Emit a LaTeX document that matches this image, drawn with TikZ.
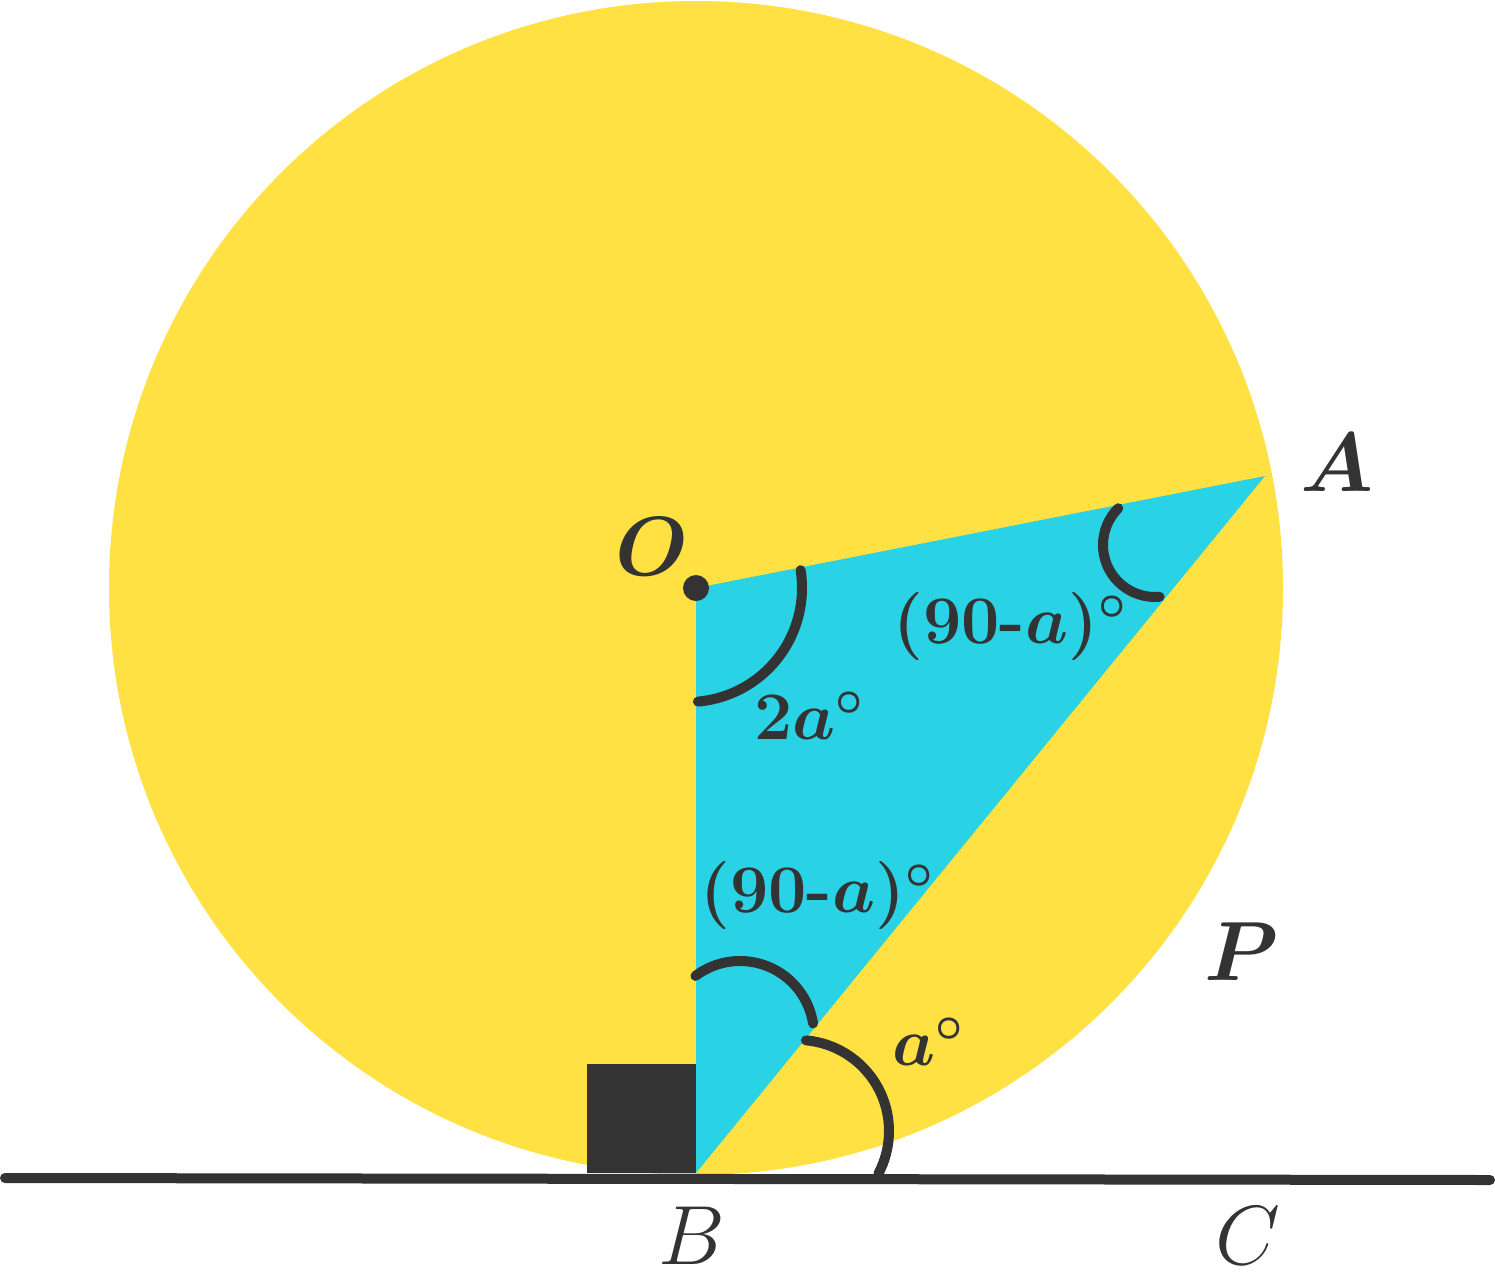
\RequirePackage{fix-cm}
\documentclass[tikz,border=0pt]{standalone}
\usepackage{amsmath}
\definecolor{ink}{HTML}{333333}
\definecolor{sun}{HTML}{FFE143}
\definecolor{sky}{HTML}{29D2E4}
\begin{document}
\begin{tikzpicture}[x=0.5pt,y=0.5pt,
  angarc/.style={draw=ink,line width=5pt,line cap=round},
  ptlabel/.style={text=ink,font=\fontsize{42}{50}\selectfont,inner sep=0pt},
  boldpt/.style={ptlabel,font=\fontsize{42}{50}\selectfont\boldmath},
  anglabel/.style={text=ink,font=\fontsize{34}{40}\selectfont\bfseries\boldmath,inner sep=0pt}]
\useasboundingbox (0,-1271) rectangle (1495,0);
\coordinate (O) at (696,-588);
\coordinate (A) at (1265,-476);
\coordinate (B) at (696,-1173);
\coordinate (L) at (5,-1178);
\coordinate (R) at (1490,-1180);
\coordinate (Q) at (587,-1064);
% circle and triangle
\fill[sun] (O) circle[radius=587];
\fill[sky] (O) -- (A) -- (B) -- cycle;
% right-angle square
\fill[ink] (Q) rectangle (B);
% tangent line
\draw[ink,line width=5pt,line cap=round] (L) -- (R);
% angle arcs
\draw[angarc] (688,-588) ++(9:114) arc[start angle=9,end angle=-85,radius=114];
\draw[angarc] (1155,-545) ++(135:52) arc[start angle=135,end angle=275,radius=52];
\draw[angarc] (740,-1035) ++(127:74) arc[start angle=127,end angle=9,radius=74];
\draw[angarc] (798,-1131) ++(85:91) arc[start angle=85,end angle=-28,radius=91];
% centre dot
\fill[ink] (O) circle[radius=13];
% labels
\node[boldpt] (lO) at (652,-547) {$O$};
\node[boldpt] (lA) at (1337,-463) {$A$};
\node[boldpt] (lP) at (1242,-952) {$P$};
\node[ptlabel] (lB) at (692,-1236) {$B$};
\node[ptlabel] (lC) at (1248,-1236) {$C$};
\node[anglabel] (l2a) at (809,-716) {$2a^\circ$};
\node[anglabel] (l90a) at (1010,-626) {$(90\text{-}a)^\circ$};
\node[anglabel] (l90b) at (817,-895) {$(90\text{-}a)^\circ$};
\node[anglabel] (la) at (928,-1042) {$a^\circ$};
\end{tikzpicture}
\end{document}
